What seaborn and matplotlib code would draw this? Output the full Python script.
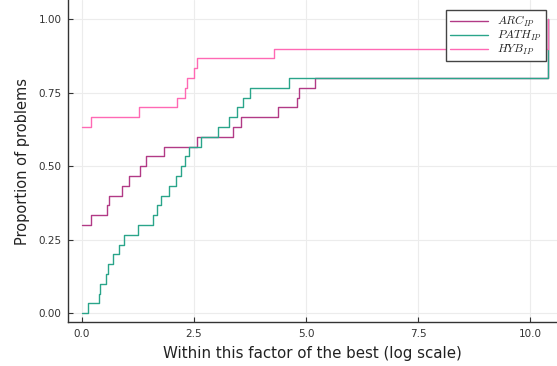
import numpy as np
import pandas as pd
import seaborn as sns
import matplotlib.pyplot as plt

sns.set_theme(style="white")
plt.rcParams["font.family"] = ["DejaVu Sans"]
plt.rcParams["mathtext.fontset"] = "cm"

n_problems = 30

# step positions (x) and number of problems solved (count) for each solver
arc_x = [0, 0.2, 0.55, 0.6, 0.89, 1.05, 1.29, 1.43, 1.82, 2.56, 3.38, 3.55,
         4.37, 4.79, 4.85, 5.2, 10.4]
arc_n = [9, 10, 11, 12, 13, 14, 15, 16, 17, 18, 19, 20, 21, 22, 23, 24, 30]

path_x = [0, 0.14, 0.38, 0.4, 0.54, 0.57, 0.7, 0.83, 0.94, 1.26, 1.59, 1.67,
          1.76, 1.95, 2.1, 2.22, 2.3, 2.39, 2.65, 3.04, 3.29, 3.45, 3.59,
          3.75, 4.62, 10.4]
path_n = [0, 1, 2, 3, 4, 5, 6, 7, 8, 9, 10, 11, 12, 13, 14, 15, 16, 17, 18,
          19, 20, 21, 22, 23, 24, 30]

hyb_x = [0, 0.19, 1.28, 2.13, 2.29, 2.34, 2.51, 2.56, 4.29, 10.4]
hyb_n = [19, 20, 21, 22, 23, 24, 25, 26, 27, 30]

labels = [r"$ARC_{IP}$", r"$PATH_{IP}$", r"$HYB_{IP}$"]
colors = ["#b23a86", "#2aa58a", "#ff69b4"]
x_ticks = [0, 2.5, 5, 7.5, 10]
y_ticks = [0, 0.25, 0.5, 0.75, 1.0]

fig = plt.figure(figsize=(5.57, 3.66), dpi=100)
ax = fig.add_axes([0.1226, 0.1194, 0.8774, 0.8806])

series = [(arc_x, arc_n), (path_x, path_n), (hyb_x, hyb_n)]
for (xs, ns), lab, col in zip(series, labels, colors):
    df = pd.DataFrame({"x": xs, "y": np.array(ns) / n_problems})
    sns.lineplot(data=df, x="x", y="y", ax=ax, color=col, label=lab,
                 drawstyle="steps-post", sort=False, estimator=None,
                 linewidth=1.0)

ax.set_xlim(-0.306, 10.6)
ax.set_ylim(-0.0306, 1.065)
ax.set_xticks(x_ticks)
ax.set_yticks(y_ticks)
ax.set_xticklabels(["0.0", "2.5", "5.0", "7.5", "10.0"])
ax.set_yticklabels(["0.00", "0.25", "0.50", "0.75", "1.00"])
ax.grid(True, color="#ececec", linewidth=0.8)
ax.set_axisbelow(True)
for s in ["top", "right"]:
    ax.spines[s].set_visible(False)
for s in ["left", "bottom"]:
    ax.spines[s].set_color("#333333")
    ax.spines[s].set_linewidth(1.0)
ax.tick_params(direction="in", length=3.5, width=0.8, color="#333333",
               labelsize=7.5, labelcolor="#333333", pad=5)
ax.tick_params(axis="both", which="both", bottom=True, left=True)

ax.set_xlabel("Within this factor of the best (log scale)", fontsize=10.8,
              color="#222222", labelpad=5)
ax.set_ylabel("Proportion of problems", fontsize=10.5, color="#222222",
              labelpad=6)

leg = ax.legend(loc="upper right", bbox_to_anchor=(0.9775, 0.969),
                borderaxespad=0, fontsize=8.5, frameon=True, fancybox=False,
                framealpha=1, edgecolor="#444444", handlelength=3.2,
                labelspacing=0.0, borderpad=0.35, handletextpad=0.8)
leg.get_frame().set_linewidth(1.0)

fig.savefig("out.png", dpi=100)
